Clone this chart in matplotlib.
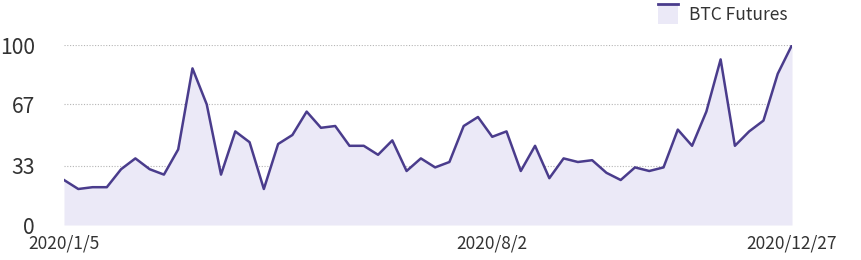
import numpy as np
import pandas as pd
import matplotlib
matplotlib.use('Agg')
import matplotlib.pyplot as plt
from matplotlib.patches import Rectangle
from matplotlib.lines import Line2D
from matplotlib.legend_handler import HandlerBase

# ---- data ----
weeks = pd.date_range('2020-01-05', periods=52, freq='7D')
btc_futures = [25, 20, 21, 21, 31, 37, 31, 28, 42, 87,
               67, 28, 52, 46, 20, 45, 50, 63, 54, 55,
               44, 44, 39, 47, 30, 37, 32, 35, 55, 60,
               49, 52, 30, 44, 26, 37, 35, 36, 29, 25,
               32, 30, 32, 53, 44, 63, 92, 44, 52, 58,
               84, 100]
y_ticks = [0, 33, 67, 100]
x_tick_idx = [0, 30, 51]
series_name = 'BTC Futures'

line_color = '#4a3c8c'
fill_color = '#ebe9f7'
text_color = '#333333'

plt.rcParams['font.family'] = ['Noto Sans CJK SC', 'DejaVu Sans']


class AreaHandler(HandlerBase):
    # filled box with a line along its top edge
    def create_artists(self, legend, orig_handle, xdescent, ydescent,
                       width, height, fontsize, trans):
        r = Rectangle((-xdescent, -ydescent - 3), width, height + 6,
                      facecolor=fill_color, edgecolor='none', transform=trans)
        l = Line2D([-xdescent, -xdescent + width],
                   [-ydescent + height + 3, -ydescent + height + 3],
                   color=line_color, lw=2, transform=trans)
        return [r, l]


fig = plt.figure(figsize=(8.62, 2.6), dpi=100)
ax = fig.add_axes([64 / 862, 1 - 225 / 260, 728 / 862, 180 / 260])

x = np.arange(len(btc_futures))
ax.fill_between(x, 0, btc_futures, color=fill_color, lw=0)
ax.plot(x, btc_futures, color=line_color, lw=1.8)

ax.set_xlim(0, len(btc_futures) - 1)
ax.set_ylim(0, 100)
ax.set_yticks(y_ticks)
ax.set_yticklabels([str(v) for v in y_ticks], fontsize=15.2, color=text_color)
ax.set_xticks(x_tick_idx)
ax.set_xticklabels([f'{weeks[i].year}/{weeks[i].month}/{weeks[i].day}' for i in x_tick_idx],
                   fontsize=12.5, color=text_color)
ax.tick_params(axis='both', length=0)
ax.tick_params(axis='y', pad=21)
ax.tick_params(axis='x', pad=7)
ax.grid(axis='y', linestyle=(0, (1, 1.5)), color='#b5b5b5', lw=0.8)
ax.set_axisbelow(True)
for s in ax.spines.values():
    s.set_visible(False)

fig.legend([Rectangle((0, 0), 1, 1)], [series_name], handler_map={Rectangle: AreaHandler()},
           loc='upper right', bbox_to_anchor=(796 / 862, 1.01), frameon=False,
           fontsize=12.5, labelcolor=text_color, handlelength=1.2, handletextpad=0.6,
           borderaxespad=0.1)

fig.savefig('out.png', dpi=100)
